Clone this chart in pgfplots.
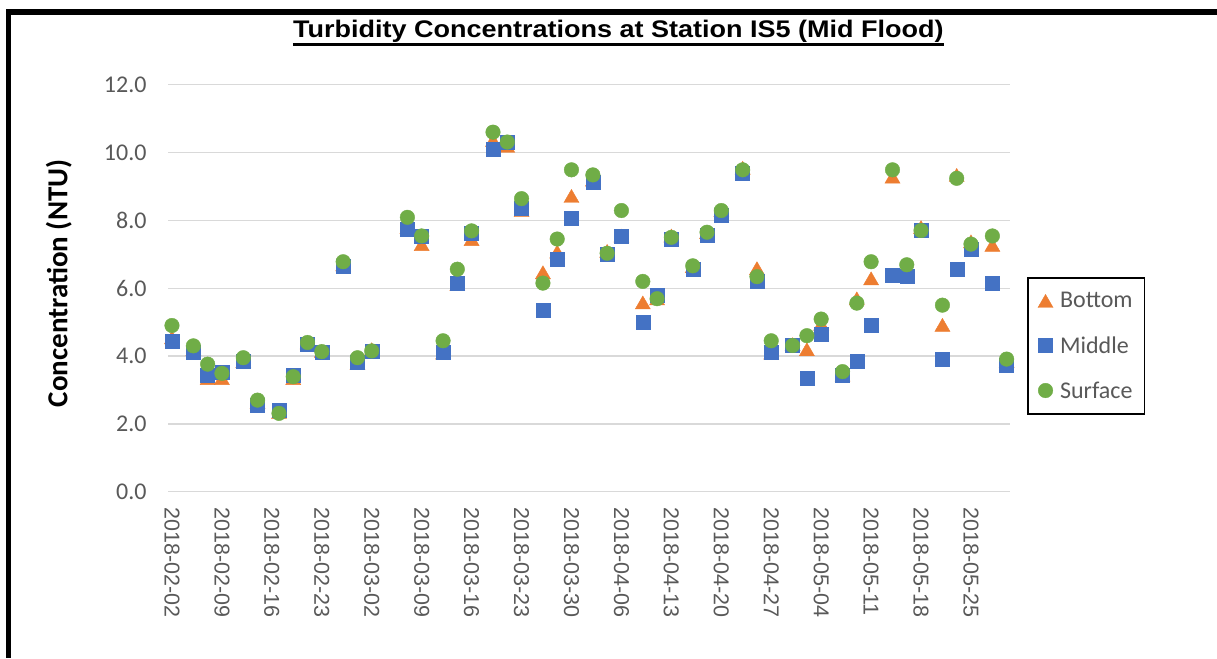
\documentclass[border=0pt]{standalone}
\usepackage{fontspec}
\setmainfont{Carlito}
\newfontfamily\arialfont{Liberation Sans}
\usepackage{graphicx}
\usepackage{pgfplots}
\usepackage{pgfplotstable}
\pgfplotsset{compat=1.18}
\definecolor{cB}{HTML}{ED7D31}
\definecolor{cM}{HTML}{4472C4}
\definecolor{cS}{HTML}{70AD47}
\definecolor{gridgray}{HTML}{D9D9D9}
\definecolor{tickgray}{HTML}{595959}

\pgfplotstableread{
d B M S
0 4.55 4.45 4.90
3 4.20 4.10 4.30
5 3.35 3.44 3.76
7 3.35 3.51 3.49
10 3.85 3.86 3.95
12 2.65 2.56 2.70
15 2.35 2.41 2.31
17 3.35 3.44 3.39
19 4.40 4.36 4.40
21 4.15 4.11 4.13
24 6.70 6.66 6.78
26 3.80 3.81 3.95
28 4.20 4.15 4.15
33 7.80 7.75 8.09
35 7.30 7.54 7.54
38 4.10 4.10 4.45
40 6.12 6.15 6.56
42 7.45 7.62 7.69
45 10.37 10.10 10.60
47 10.20 10.30 10.31
49 8.30 8.35 8.64
52 6.47 5.35 6.15
54 7.08 6.86 7.45
56 8.72 8.05 9.49
59 9.20 9.12 9.34
61 7.10 7.01 7.03
63 7.55 7.54 8.29
66 5.58 5.01 6.20
68 5.70 5.79 5.69
70 7.55 7.45 7.50
73 6.65 6.56 6.66
75 7.65 7.55 7.65
77 8.30 8.16 8.29
80 9.55 9.39 9.49
82 6.59 6.20 6.34
84 4.10 4.10 4.45
87 4.35 4.31 4.31
89 4.20 3.36 4.60
91 4.95 4.65 5.09
94 3.45 3.44 3.54
96 5.70 3.86 5.56
98 6.29 4.90 6.78
101 9.29 6.39 9.49
103 6.40 6.34 6.69
105 7.80 7.70 7.70
108 4.92 3.91 5.50
110 9.34 6.56 9.24
112 7.38 7.16 7.30
115 7.28 6.15 7.54
117 3.85 3.72 3.91
}\turb

\begin{document}
\begin{tikzpicture}[x=1pt,y=1pt]
\useasboundingbox (0,0) rectangle (1217,658);
\fill[black] (6,643) rectangle (1217,648.5);
\fill[black] (6,0) rectangle (11,648.5);
\node[anchor=base, inner sep=0pt, font=\arialfont\bfseries\fontsize{24}{28}\selectfont] (t) at (618.3,620.5)
  {\scalebox{1.125}[1]{Turbidity Concentrations at Station IS5 (Mid Flood)}};
\draw[line width=2.6pt] ([yshift=-7pt]t.base west) -- ([yshift=-7pt]t.base east);
\node[rotate=90, anchor=base, inner sep=0pt, font=\bfseries\fontsize{29}{33}\selectfont] at (67.3,374.7) {Concentration (NTU)};
\begin{axis}[
  at={(168.4pt,166.3pt)}, anchor=south west,
  scale only axis, width=841.8pt, height=407pt,
  xmin=-0.5, xmax=117.5, ymin=0, ymax=12,
  clip=false,
  axis line style={draw=none},
  major tick length=0pt,
  ymajorgrids, grid style={color=gridgray, line width=1.3pt},
  ytick={0,2,...,12},
  /pgf/number format/assume math mode=true,
  yticklabel style={/pgf/number format/fixed, /pgf/number format/fixed zerofill, /pgf/number format/precision=1,
    font=\fontsize{24}{28}\selectfont, text=tickgray, inner sep=0pt},
  yticklabel shift=21.7pt,
  xtick={0,7,...,112},
  xticklabels={2018-02-02,2018-02-09,2018-02-16,2018-02-23,2018-03-02,2018-03-09,2018-03-16,2018-03-23,2018-03-30,2018-04-06,2018-04-13,2018-04-20,2018-04-27,2018-05-04,2018-05-11,2018-05-18,2018-05-25},
  xticklabel style={rotate=-90, anchor=west, font=\arialfont\fontsize{21.5}{24}\selectfont, text=tickgray, inner sep=0pt},
  xticklabel shift=15.5pt,
  legend cell align=left,
  legend style={at={(axis description cs:1.0203,0.5268)}, anchor=north west, draw=black, line width=1.4pt,
    font=\fontsize{24}{28}\selectfont, text=tickgray, inner xsep=10pt, inner ysep=12.5pt, row sep=23pt,
    /tikz/every odd column/.append style={column sep=5pt}},
]
\addplot[only marks, mark=triangle*, mark size=8.7pt, mark options={fill=cB, draw=cB, line width=0.4pt, yshift=-2.2pt}] table[x=d,y=B]{\turb};
\addlegendentry{Bottom}
\addplot[only marks, mark=square*, mark size=7pt, mark options={fill=cM, draw=cM, line width=0.4pt}] table[x=d,y=M]{\turb};
\addlegendentry{Middle}
\addplot[only marks, mark=*, mark size=7.3pt, mark options={fill=cS, draw=cS, line width=0.4pt}] table[x=d,y=S]{\turb};
\addlegendentry{Surface}
\end{axis}
\end{tikzpicture}
\end{document}
